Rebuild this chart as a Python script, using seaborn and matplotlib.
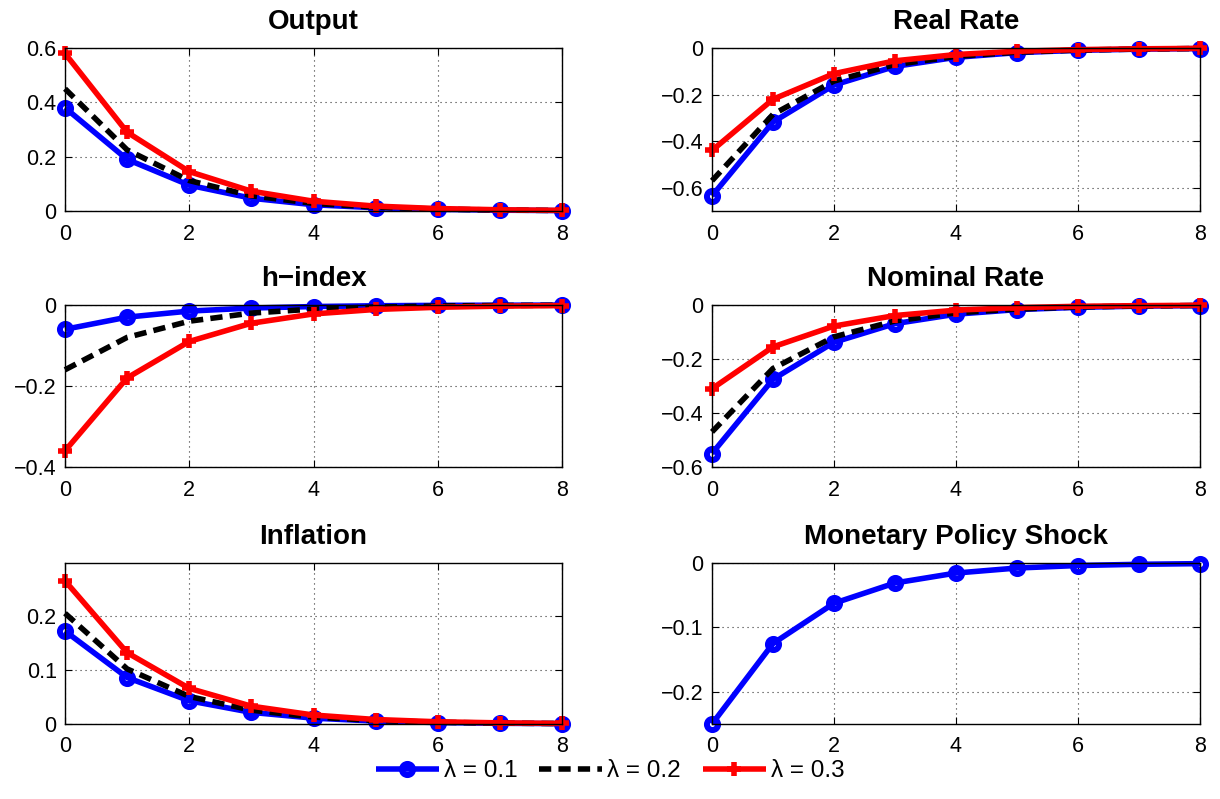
import matplotlib
matplotlib.use("Agg")
import matplotlib.pyplot as plt
import pandas as pd
import seaborn as sns

# Impulse responses over 9 periods for three values of lambda
periods = [0, 1, 2, 3, 4, 5, 6, 7, 8]
lambdas = ["\u03bb = 0.1", "\u03bb = 0.2", "\u03bb = 0.3"]

output_l1 = [0.38, 0.19, 0.095, 0.047, 0.023, 0.012, 0.006, 0.003, 0.0015]
output_l2 = [0.45, 0.225, 0.112, 0.056, 0.028, 0.014, 0.007, 0.0035, 0.0018]
output_l3 = [0.58, 0.29, 0.145, 0.073, 0.036, 0.018, 0.009, 0.0045, 0.0022]

real_l1 = [-0.635, -0.318, -0.159, -0.079, -0.040, -0.020, -0.010, -0.005, -0.0025]
real_l2 = [-0.57, -0.285, -0.142, -0.071, -0.036, -0.018, -0.009, -0.0045, -0.0022]
real_l3 = [-0.44, -0.22, -0.11, -0.055, -0.028, -0.014, -0.007, -0.0035, -0.0017]

hidx_l1 = [-0.06, -0.03, -0.015, -0.0075, -0.0038, -0.0019, -0.0009, -0.0005, -0.0002]
hidx_l2 = [-0.16, -0.08, -0.04, -0.02, -0.01, -0.005, -0.0025, -0.0012, -0.0006]
hidx_l3 = [-0.36, -0.18, -0.09, -0.045, -0.022, -0.011, -0.0056, -0.0028, -0.0014]

nominal_l1 = [-0.55, -0.275, -0.138, -0.069, -0.034, -0.017, -0.0086, -0.0043, -0.0021]
nominal_l2 = [-0.47, -0.235, -0.118, -0.059, -0.029, -0.015, -0.0073, -0.0037, -0.0018]
nominal_l3 = [-0.31, -0.155, -0.078, -0.039, -0.019, -0.0097, -0.0048, -0.0024, -0.0012]

infl_l1 = [0.172, 0.086, 0.043, 0.0215, 0.0108, 0.0054, 0.0027, 0.0013, 0.0007]
infl_l2 = [0.205, 0.102, 0.051, 0.0256, 0.0128, 0.0064, 0.0032, 0.0016, 0.0008]
infl_l3 = [0.265, 0.132, 0.066, 0.033, 0.0166, 0.0083, 0.0041, 0.0021, 0.001]

shock = [-0.25, -0.125, -0.0625, -0.031, -0.0156, -0.0078, -0.0039, -0.002, -0.001]

panels = [
    ("Output", [output_l1, output_l2, output_l3], (0, 0.6), [0, 0.2, 0.4, 0.6]),
    ("Real Rate", [real_l1, real_l2, real_l3], (-0.7, 0), [-0.6, -0.4, -0.2, 0]),
    ("h\u2212index", [hidx_l1, hidx_l2, hidx_l3], (-0.4, 0), [-0.4, -0.2, 0]),
    ("Nominal Rate", [nominal_l1, nominal_l2, nominal_l3], (-0.6, 0), [-0.6, -0.4, -0.2, 0]),
    ("Inflation", [infl_l1, infl_l2, infl_l3], (0, 0.298), [0, 0.1, 0.2]),
    ("Monetary Policy Shock", [shock], (-0.25, 0), [-0.2, -0.1, 0]),
]

sns.set_style("ticks")
plt.rcParams["font.family"] = ["Liberation Sans", "DejaVu Sans"]
plt.rcParams["text.color"] = "black"
plt.rcParams["xtick.color"] = "black"
plt.rcParams["ytick.color"] = "black"
plt.rcParams["axes.labelcolor"] = "black"

colors = ["#0000ff", "black", "#ff0000"]
line_props = [
    dict(marker="o", markersize=8, markerfacecolor="none",
         markeredgecolor="#0000ff", markeredgewidth=4.3, linestyle="-"),
    dict(marker="None", linestyle=(0, (2.2, 1.3))),
    dict(marker="+", markersize=9.5, markeredgecolor="#ff0000",
         markeredgewidth=4.0, linestyle="-"),
]


def fmt(v):
    s = "%g" % v
    return s.replace("-", "\u2212")


fig = plt.figure(figsize=(12.2, 7.99), dpi=100)

col_x = [65 / 1220, 712 / 1220]
col_w = [(562 - 65) / 1220, (1200 - 712) / 1220]
row_top = [48, 305, 563]
row_bot = [211, 467, 724]
H = 799

handles = None
labels = None
for i, (title, series, ylim, yticks) in enumerate(panels):
    r, c = divmod(i, 2)
    ax = fig.add_axes([col_x[c], 1 - row_bot[r] / H, col_w[c],
                       (row_bot[r] - row_top[r]) / H])
    for k, vals in enumerate(series):
        df = pd.DataFrame({"t": periods, "v": vals})
        sns.lineplot(data=df, x="t", y="v", ax=ax, linewidth=4.0,
                     color=colors[k], label=lambdas[k], legend=False)
        ln = ax.lines[-1]
        ln.set(**line_props[k])
        ln.set_solid_capstyle("butt")
        ln.set_dash_capstyle("butt")
        ln.set_clip_on(False)
    ax.set_xlim(0, 8)
    ax.set_ylim(*ylim)
    ax.set_xticks([0, 2, 4, 6, 8])
    ax.set_yticks(yticks)
    ax.set_yticklabels([fmt(t) for t in yticks])
    ax.set_xlabel("")
    ax.set_ylabel("")
    ax.set_title(title, fontsize=20, fontweight="bold", pad=13.5, color="black")
    ax.grid(True, linestyle=(0, (1, 3.5)), color="#333333", linewidth=0.8)
    ax.tick_params(direction="in", top=True, right=True, labelsize=15.5,
                   length=5, width=0.8, labelcolor="black")
    ax.tick_params(axis="x", pad=9)
    ax.tick_params(axis="y", pad=6)
    for s in ax.spines.values():
        s.set_linewidth(1.0)
        s.set_color("black")
    if i == 0:
        handles, labels = ax.get_legend_handles_labels()

fig.legend(handles, labels, loc="center", bbox_to_anchor=(0.5, 1 - 771 / H),
           ncol=3, frameon=False, fontsize=17.5, handlelength=2.6,
           handletextpad=0.2, columnspacing=0.9)

fig.savefig("out.png", dpi=100)
